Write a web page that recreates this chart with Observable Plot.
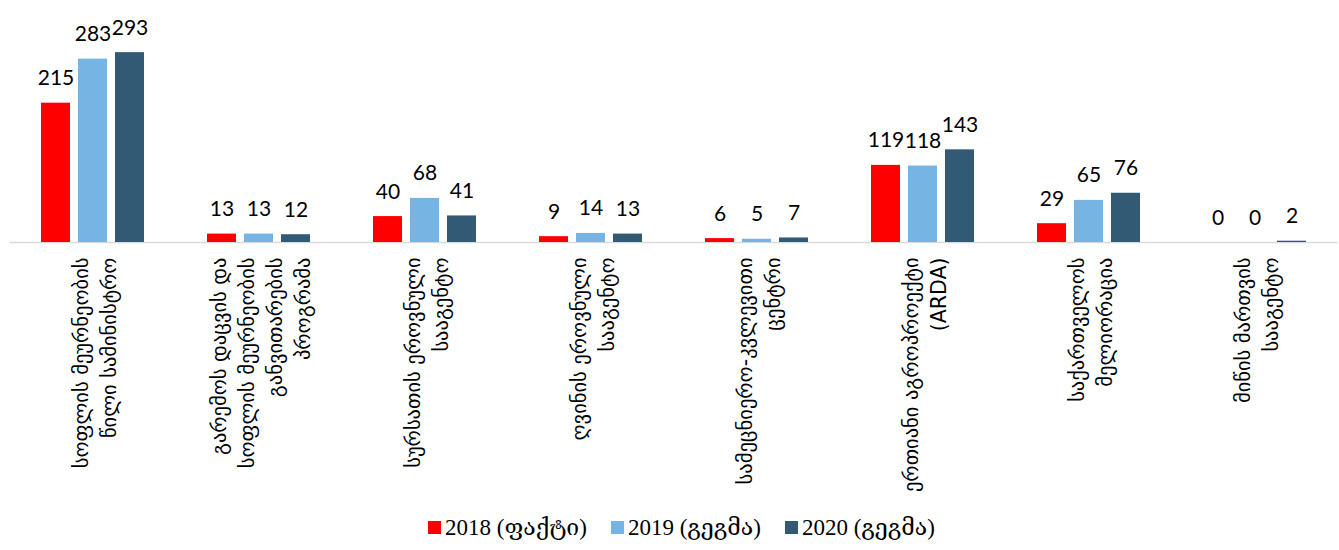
<!DOCTYPE html>
<html>
<head>
<meta charset="utf-8">
<script src="https://cdn.jsdelivr.net/npm/d3@7"></script>
<script src="https://cdn.jsdelivr.net/npm/@observablehq/plot@0.6"></script>
<style>
  html, body { margin: 0; padding: 0; background: #fff; }
  #chart svg { display: block; }
  .legend { display: flex; justify-content: center; align-items: center; gap: 24px;
    font-family: "Liberation Serif", "DejaVu Serif", serif; font-size: 23px; color: #000;
    height: 38px; margin-left: 24px; }
  .legend span.item { display: flex; align-items: center; gap: 4px; }
  .legend span.sw { display: inline-block; width: 13px; height: 13px; }
</style>
</head>
<body>
<div id="chart"></div>
<script>
const categories = [
  "სოფლის მეურნეობის\nწილი სამინისტრო",
  "გარემოს დაცვის და\nსოფლის მეურნეობის\nგანვითარების\nპროგრამა",
  "სურსათის ეროვნული\nსააგენტო",
  "ღვინის ეროვნული\nსააგენტო",
  "სამეცნიერო-კვლევითი\nცენტრი",
  "ერთიანი აგროპროექტი\n(ARDA)",
  "საქართველოს\nმელიორაცია",
  "მიწის მართვის\nსააგენტო"
];
const years = ["2018 (ფაქტი)", "2019 (გეგმა)", "2020 (გეგმა)"];
const colors = ["#FF0000", "#75B4E3", "#335A75"];
const values2018 = [215, 13, 40, 9, 6, 119, 29, 0];
const values2019 = [283, 13, 68, 14, 5, 118, 65, 0];
const values2020 = [293, 12, 41, 13, 7, 143, 76, 2];

const series = [values2018, values2019, values2020];
const data = [];
categories.forEach((c, i) => {
  years.forEach((y, j) => data.push({category: c, year: y, value: series[j][i]}));
});

const numFont = "Lato, 'Open Sans', sans-serif";
const geoFont = "'DejaVu Sans', 'Noto Sans', sans-serif";

const chart = Plot.plot({
  width: 1339,
  height: 508,
  marginLeft: 9,
  marginRight: 2,
  marginTop: 20,
  marginBottom: 266,
  fx: {domain: categories, paddingInner: 0.38, paddingOuter: 0.19, axis: null},
  x: {domain: years, paddingInner: 0.22, paddingOuter: 0, axis: null},
  y: {domain: [0, 342.6], axis: null},
  color: {domain: years, range: colors},
  marks: [
    Plot.ruleY(categories, {fx: d => d, y: () => 0, stroke: "#D9D9D9", strokeWidth: 1.5, insetLeft: -31.6, insetRight: -31.6}),
    Plot.barY(data, {fx: "category", x: "year", y: "value", fill: "year"}),
    Plot.text(data, {fx: "category", x: "year", y: "value", text: d => String(d.value),
      dy: -18, lineAnchor: "bottom", fontSize: 21, fontFamily: numFont, fill: "#000"}),
    Plot.text(categories, {fx: d => d, text: d => d, frameAnchor: "bottom", dy: 15,
      rotate: -90, textAnchor: "end", lineAnchor: "middle", lineHeight: 1.36,
      fontSize: 20.5, fontFamily: geoFont, fill: "#000"})
  ]
});
document.getElementById("chart").appendChild(chart);

const legend = document.createElement("div");
legend.className = "legend";
years.forEach((y, i) => {
  const item = document.createElement("span");
  item.className = "item";
  const sw = document.createElement("span");
  sw.className = "sw";
  sw.style.background = colors[i];
  const t = document.createElement("span");
  t.textContent = y;
  item.appendChild(sw);
  item.appendChild(t);
  legend.appendChild(item);
});
document.getElementById("chart").appendChild(legend);
</script>
</body>
</html>
